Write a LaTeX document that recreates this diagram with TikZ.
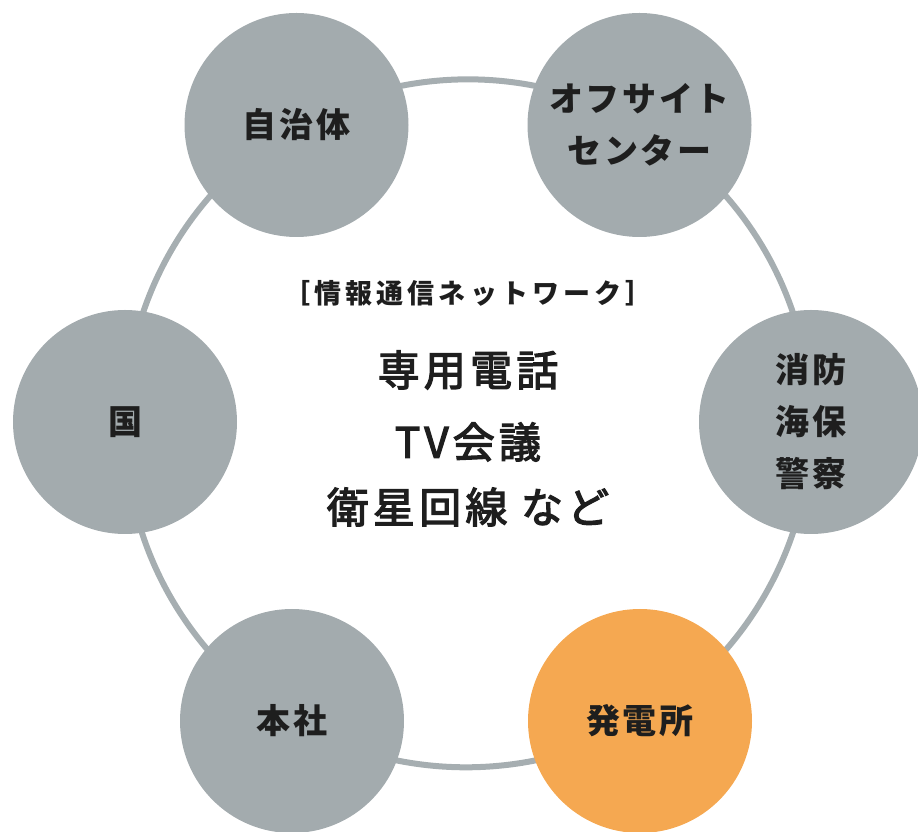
\documentclass[tikz,border=0pt]{standalone}
\usepackage{fontspec}
\usetikzlibrary{backgrounds}
\newfontfamily\jp{Noto Sans CJK JP}[LetterSpace=8]
\newfontfamily\jph{Noto Sans CJK JP}[LetterSpace=15]
\newfontfamily\jpc{Noto Sans CJK JP}[LetterSpace=10,FakeBold=3]
\definecolor{circgray}{HTML}{A3ABAE}
\definecolor{ringgray}{HTML}{A6AEB1}
\definecolor{powerorange}{HTML}{F5A851}
\definecolor{ink}{HTML}{1E1E1E}
\tikzset{
  party/.style={circle, minimum size=224pt, inner sep=0pt, fill=circgray,
    text=ink, align=center, font=\jp\bfseries\fontsize{34}{52}\selectfont},
  plant/.style={party, fill=powerorange},
  ringline/.style={draw=ringgray, line width=6pt},
  midtext/.style={text=ink, inner sep=0pt, font=\jpc\fontsize{42}{50}\selectfont},
  headtext/.style={text=ink, inner sep=0pt, font=\jph\bfseries\fontsize{27}{30}\selectfont}
}
\begin{document}
\begin{tikzpicture}[x=1pt,y=1pt]
\useasboundingbox (0,0) rectangle (918,832);
\node[party] (shobo)    at (811,410) {消防\\海保\\警察};
\node[party] (offsite)  at (639.5,707) {オフサイト\\センター};
\node[party] (jichitai) at (296.5,707) {自治体};
\node[party] (kuni)     at (125,410) {国};
\node[party] (honsha)   at (292,111) {本社};
\node[plant] (hatsuden) at (640,111) {発電所};
\begin{scope}[on background layer]
\foreach \a/\b in {shobo/offsite, offsite/jichitai, jichitai/kuni, kuni/honsha, honsha/hatsuden, hatsuden/shobo}
  \draw[ringline] (\a.center) to[bend right=30, looseness=0.91] (\b.center);
\end{scope}
\node[headtext] (head) at (468,539) {［情報通信ネットワーク］};
\node[midtext] (l1) at (468,462) {専用電話};
\node[midtext] (l2) at (468,390) {TV会議};
\node[midtext] (l3) at (468,325) {衛星回線 など};
\end{tikzpicture}
\end{document}
